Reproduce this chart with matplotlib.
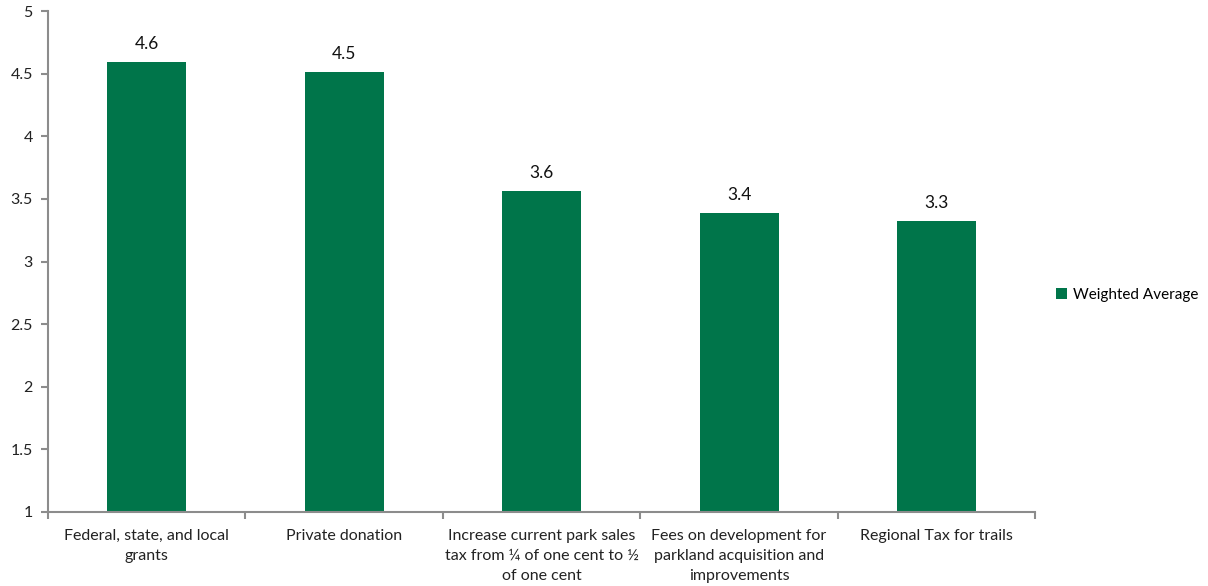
import numpy as np
import matplotlib
matplotlib.use("Agg")
import matplotlib.pyplot as plt

# data
categories = [
    "Federal, state, and local\ngrants",
    "Private donation",
    "Increase current park sales\ntax from \u00bc of one cent to \u00bd\nof one cent",
    "Fees on development for\nparkland acquisition and\nimprovements",
    "Regional Tax for trails",
]
values = [4.59, 4.51, 3.56, 3.39, 3.32]
labels = ["4.6", "4.5", "3.6", "3.4", "3.3"]
yticks = [1, 1.5, 2, 2.5, 3, 3.5, 4, 4.5, 5]
ytick_labels = ["1", "1.5", "2", "2.5", "3", "3.5", "4", "4.5", "5"]

plt.rcParams['font.family'] = ['Lato', 'DejaVu Sans']
green = "#00754A"
axis_grey = "#8C8C8C"

fig = plt.figure(figsize=(12.08, 5.86), dpi=100)
ax = fig.add_axes([0.0397, 0.1263, 0.8173, 0.8549])

x = np.arange(len(categories))
bars = ax.bar(x, values, width=0.4, color=green, bottom=0, label="Weighted Average")

for xi, v, lab in zip(x, values, labels):
    ax.text(xi, v + 0.08, lab, ha="center", va="bottom", fontsize=12.5, color="#111111")

ax.set_ylim(1, 5)
ax.set_xlim(-0.5, len(categories) - 0.5)
ax.set_yticks(yticks)
ax.set_yticklabels(ytick_labels, fontsize=11.5, color="#222222")

# category labels centered, ticks on category boundaries
ax.set_xticks(x)
ax.set_xticklabels(categories, fontsize=11.5, color="#222222", linespacing=1.55)
ax.tick_params(axis="x", length=0, pad=12)
ax.set_xticks(np.arange(-0.5, len(categories)), minor=True)
ax.tick_params(axis="x", which="minor", length=5, color=axis_grey, width=1.5)
ax.tick_params(axis="y", length=5, color=axis_grey, width=1.5, pad=6)

for side in ["top", "right"]:
    ax.spines[side].set_visible(False)
for side in ["left", "bottom"]:
    ax.spines[side].set_color(axis_grey)
    ax.spines[side].set_linewidth(1.5)

ax.legend(loc="center left", bbox_to_anchor=(1.01, 0.434), frameon=False,
          fontsize=11, handlelength=0.7, handleheight=0.7, handletextpad=0.4,
          borderaxespad=0.3)

fig.savefig("out.png", dpi=100)
